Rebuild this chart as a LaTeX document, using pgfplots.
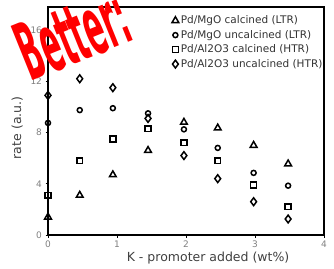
\documentclass[border=0pt]{standalone}
\usepackage{pgfplots}
\pgfplotsset{compat=1.18}
\usepackage{fontspec}
\setmainfont{DejaVu Sans}
\begin{document}
\begin{tikzpicture}[x=1pt,y=1pt]
\path[use as bounding box] (0,0) rectangle (334,268);
\begin{axis}[
  at={(48pt,33pt)}, anchor=south west,
  width=276pt, height=228pt, scale only axis,
  xmin=0, xmax=4, ymin=0, ymax=17.8,
  xtick={0,1,2,3,4}, ytick={0,4,8,12,16},
  tick align=outside, tick pos=left,
  major tick length=2.5pt,
  tick style={black, line width=1pt},
  axis line style={line width=1.3pt},
  tick label style={font=\fontsize{9}{10}\selectfont, text=gray},
  /pgf/number format/assume math mode=true,
  xlabel={K - promoter added (wt\%)},
  ylabel={rate (a.u.)},
  label style={font=\fontsize{12.5}{14}\selectfont, text=black!75},
  xlabel style={at={(axis description cs:0.58,-0.1)}, anchor=center},
  ylabel style={at={(axis description cs:-0.112,0.47)}, anchor=center},
  legend style={draw=none, fill=none, at={(0.445,0.975)}, anchor=north west,
    font=\fontsize{10.5}{12}\selectfont, row sep=1pt, inner sep=1pt,
    nodes={text=black!80}},
  legend cell align=left,
  every axis plot/.append style={only marks, black, line width=1.5pt},
]
\addplot+[mark=triangle, mark size=3.9pt, mark options={black, line width=1.5pt}] coordinates {
(0,1.4) (0.46,3.1) (0.94,4.7) (1.45,6.6) (1.97,8.8) (2.46,8.35) (2.98,7.0) (3.48,5.55)};
\addlegendentry{Pd/MgO calcined (LTR)}
\addplot+[mark=o, mark size=2.5pt, mark options={black, line width=1.5pt}] coordinates {
(0,8.75) (0.46,9.75) (0.94,9.9) (1.45,9.5) (1.97,8.25) (2.46,6.8) (2.98,4.85) (3.48,3.85)};
\addlegendentry{Pd/MgO uncalcined (LTR)}
\addplot+[mark=square, mark size=2.9pt, mark options={black, line width=1.5pt}] coordinates {
(0,3.1) (0.46,5.8) (0.94,7.5) (1.45,8.3) (1.97,7.2) (2.46,5.8) (2.98,3.9) (3.48,2.2)};
\addlegendentry{Pd/Al2O3 calcined (HTR)}
\addplot+[mark=diamond, mark size=3.9pt, mark options={black, line width=1.5pt}] coordinates {
(0,10.9) (0.46,12.2) (0.94,11.5) (1.45,9.1) (1.97,6.2) (2.46,4.4) (2.98,2.6) (3.48,1.25)};
\addlegendentry{Pd/Al2O3 uncalcined (HTR)}
\end{axis}
\node[text=red, rotate=22, inner sep=0pt] at (73,234) {\scalebox{0.36}[1]{\fontsize{80}{80}\selectfont\bfseries Better:}};
\end{tikzpicture}
\end{document}
